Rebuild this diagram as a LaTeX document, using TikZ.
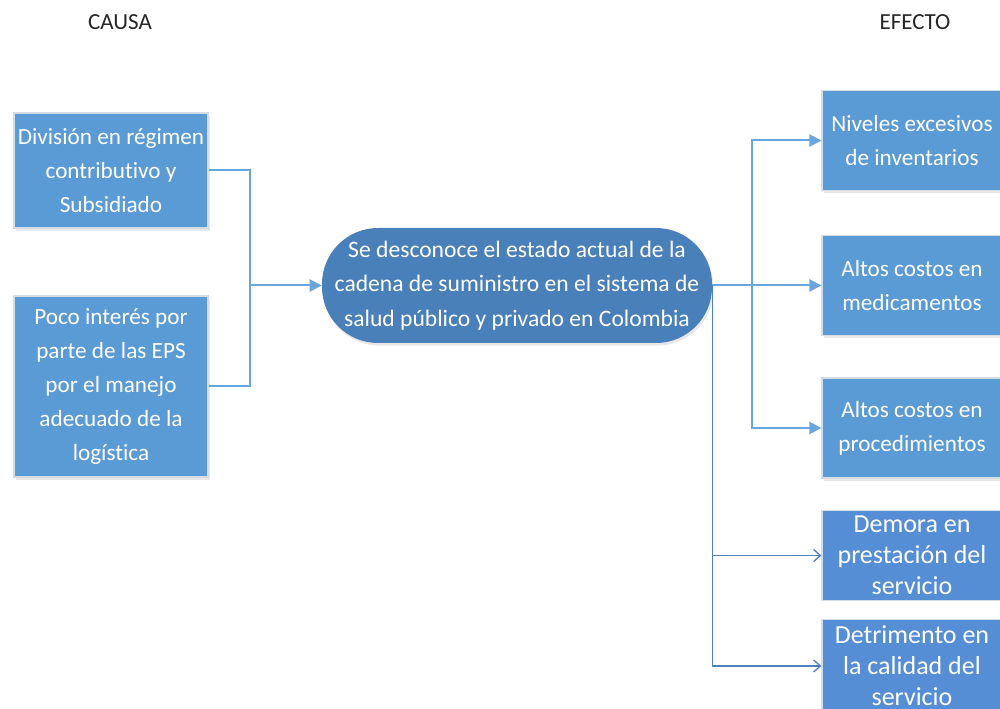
\documentclass[tikz,border=0pt]{standalone}
\usepackage{fontspec}
\setmainfont[Ligatures=CommonOff]{Carlito}
\usetikzlibrary{arrows.meta,shadows}
\definecolor{boxblue}{HTML}{5B9BD5}
\definecolor{boxblue2}{HTML}{558ED5}
\definecolor{midblue}{HTML}{4A80BA}
\definecolor{linkblue}{HTML}{6AA6DE}
\definecolor{linkdark}{HTML}{4F81BD}
\definecolor{edgegray}{HTML}{D5DCE4}
\tikzset{
  x=0.75pt, y=-0.75pt,
  boxstyle/.style={rectangle, fill=boxblue, draw=edgegray, line width=0.8pt,
    text=white, align=center, inner sep=0pt,
    font=\fontsize{17.4}{25.5}\selectfont,
    drop shadow={opacity=0.18, shadow xshift=1.5pt, shadow yshift=-2pt}},
  boxstyleb/.style={rectangle, fill=boxblue2, draw=edgegray, line width=1pt,
    text=white, align=center, inner sep=0pt,
    font=\fontsize{19.5}{23.25}\selectfont},
  centerbox/.style={rectangle, rounded corners=42pt, fill=midblue, draw=none,
    text=white, align=center, inner sep=0pt,
    font=\fontsize{17.7}{26}\selectfont,
    drop shadow={opacity=0.18, shadow xshift=1pt, shadow yshift=-2pt}},
  heading/.style={text=black!85, font=\fontsize{17.25}{20}\selectfont},
  linkline/.style={draw=linkblue, line width=1.5pt},
  linkarrow/.style={linkline, -{Triangle[length=9pt,width=9pt]}},
  thinarrow/.style={draw=linkdark, line width=1pt, -{Straight Barb[length=5pt,width=9pt,line width=1pt]}}
}
\begin{document}
\begin{tikzpicture}
\useasboundingbox (0,0) rectangle (1000,709);
\begin{scope}
\clip (0,0) rectangle (1000,709);
\node[heading] (causa) at (120,22) {CAUSA};
\node[heading] (efecto) at (915,22) {EFECTO};

\node[boxstyle, minimum width=145.5pt, minimum height=86.25pt] (b1) at (111,170.5)
  {División en régimen\\contributivo y\\Subsidiado};
\node[boxstyle, minimum width=145.5pt, minimum height=135.75pt] (b2) at (111,386.5)
  {Poco interés por\\parte de las EPS\\por el manejo\\adecuado de la\\logística};

\node[centerbox, minimum width=292.5pt, minimum height=86.25pt] (c) at (517,285.5)
  {Se desconoce el estado actual de la\\cadena de suministro en el sistema de\\salud público y privado en Colombia};

\node[boxstyle, minimum width=135pt, minimum height=75pt] (r1) at (912,140.5)
  {Niveles excesivos\\de inventarios};
\node[boxstyle, minimum width=135pt, minimum height=75pt] (r2) at (912,285.5)
  {Altos costos en\\medicamentos};
\node[boxstyle, minimum width=135pt, minimum height=75pt] (r3) at (912,428)
  {Altos costos en\\procedimientos};
\node[boxstyleb, minimum width=135pt, minimum height=67.5pt] (r4) at (912,555.5)
  {Demora en\\prestación del\\servicio};
\node[boxstyleb, minimum width=135pt, minimum height=70pt] (r5) at (912,666)
  {Detrimento en\\la calidad del\\servicio};

\coordinate (j1) at (250,285.5);
\coordinate (j2) at (752,285.5);
\draw[linkline] (b1.east) -| (j1) |- (b2.east);
\draw[linkarrow] (j1) -- (c.west);
\draw[linkarrow] (c.east) -- (r2.west);
\draw[linkarrow] (j2) |- (r1.west);
\draw[linkarrow] (j2) |- (r3.west);
\draw[thinarrow] (c.east) |- (r4.west);
\draw[thinarrow] (c.east) |- (r5.west);
\end{scope}
\end{tikzpicture}
\end{document}
